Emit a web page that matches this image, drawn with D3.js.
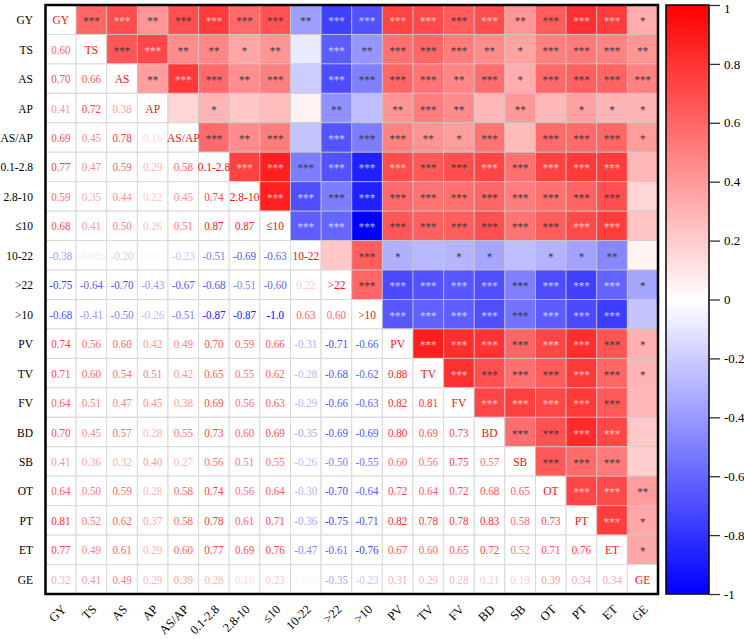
<!DOCTYPE html>
<html>
<head>
<meta charset="utf-8">
<script src="https://cdn.jsdelivr.net/npm/d3@7/dist/d3.min.js"></script>
<style>
  html, body { margin: 0; padding: 0; background: #fff; }
  svg { display: block; }
  svg text { font-family: "Liberation Serif", "Times New Roman", "DejaVu Serif", serif; }
</style>
</head>
<body>
<svg id="chart" width="744" height="639"></svg>
<script>
// ---------- DATA ----------
const variables = ["GY","TS","AS","AP","AS/AP","0.1-2.8","2.8-10","≤10","10-22",">22",">10","PV","TV","FV","BD","SB","OT","PT","ET","GE"];

// lower triangle correlations, row i holds columns 0..i-1
const corrLower = [
  [],
  [0.60],
  [0.70, 0.66],
  [0.41, 0.72, 0.38],
  [0.69, 0.45, 0.78, 0.16],
  [0.77, 0.47, 0.59, 0.29, 0.58],
  [0.59, 0.35, 0.44, 0.22, 0.45, 0.74],
  [0.68, 0.41, 0.50, 0.26, 0.51, 0.87, 0.87],
  [-0.38, -0.083, -0.20, 0.051, -0.23, -0.51, -0.69, -0.63],
  [-0.75, -0.64, -0.70, -0.43, -0.67, -0.68, -0.51, -0.60, 0.22],
  [-0.68, -0.41, -0.50, -0.26, -0.51, -0.87, -0.87, -1.0, 0.63, 0.60],
  [0.74, 0.56, 0.60, 0.42, 0.49, 0.70, 0.59, 0.66, -0.31, -0.71, -0.66],
  [0.71, 0.60, 0.54, 0.51, 0.42, 0.65, 0.55, 0.62, -0.28, -0.68, -0.62, 0.88],
  [0.64, 0.51, 0.47, 0.45, 0.38, 0.69, 0.56, 0.63, -0.29, -0.66, -0.63, 0.82, 0.81],
  [0.70, 0.45, 0.57, 0.28, 0.55, 0.73, 0.60, 0.69, -0.35, -0.69, -0.69, 0.80, 0.69, 0.73],
  [0.41, 0.36, 0.32, 0.40, 0.27, 0.56, 0.51, 0.55, -0.26, -0.50, -0.55, 0.60, 0.56, 0.75, 0.57],
  [0.64, 0.50, 0.59, 0.28, 0.58, 0.74, 0.56, 0.64, -0.30, -0.70, -0.64, 0.72, 0.64, 0.72, 0.68, 0.65],
  [0.81, 0.52, 0.62, 0.37, 0.58, 0.78, 0.61, 0.71, -0.36, -0.75, -0.71, 0.82, 0.78, 0.78, 0.83, 0.58, 0.73],
  [0.77, 0.49, 0.61, 0.29, 0.60, 0.77, 0.69, 0.76, -0.47, -0.61, -0.76, 0.67, 0.60, 0.65, 0.72, 0.52, 0.71, 0.76],
  [0.32, 0.41, 0.49, 0.29, 0.39, 0.28, 0.16, 0.23, 0.047, -0.35, -0.23, 0.31, 0.29, 0.28, 0.21, 0.19, 0.39, 0.34, 0.34]
];

// significance stars, upper triangle, row i holds columns i+1..19
const starsUpper = [
  ["***","***","**","***","***","***","***","**","***","***","***","***","***","***","**","***","***","***","*"],
  ["***","***","**","**","*","**","","***","**","***","***","***","**","*","***","***","***","**"],
  ["**","***","***","**","***","","***","***","***","***","**","***","*","***","***","***","***"],
  ["","*","","","","**","","**","***","**","","**","","*","*","*"],
  ["***","**","***","","***","***","***","**","*","***","","***","***","***","*"],
  ["***","***","***","***","***","***","***","***","***","***","***","***","***",""],
  ["***","***","***","***","***","***","***","***","***","***","***","***",""],
  ["***","***","***","***","***","***","***","***","***","***","***",""],
  ["","***","*","","*","*","","*","*","**",""],
  ["***","***","***","***","***","***","***","***","***","*"],
  ["***","***","***","***","***","***","***","***",""],
  ["***","***","***","***","***","***","***","*"],
  ["***","***","***","***","***","***","*"],
  ["***","***","***","***","***",""],
  ["***","***","***","***",""],
  ["***","***","***",""],
  ["***","***","**"],
  ["***","*"],
  ["*"],
  []
];

const colorbarTicks = [1, 0.8, 0.6, 0.4, 0.2, 0, -0.2, -0.4, -0.6, -0.8, -1];

// ---------- BUILD ----------
const FONT = "Liberation Serif, Times New Roman, DejaVu Serif, serif";
const SX = 0.85; // horizontal squeeze seen in the reference text
const n = variables.length;
const value = (i, j) => i === j ? 1 : (i > j ? corrLower[i][j] : corrLower[j][i]);

const svg = d3.select("#chart");
const M = { left: 45.5, top: 5, right: 658, bottom: 594 };

const x = d3.scaleBand().domain(d3.range(n)).range([M.left, M.right]).paddingInner(0);
const y = d3.scaleBand().domain(d3.range(n)).range([M.top, M.bottom]).paddingInner(0);
const color = d3.scaleLinear().domain([-1, 0, 1]).range(["#0000ff", "#ffffff", "#ff0000"]);
const cx = j => x(j) + x.bandwidth() / 2;
const cy = i => y(i) + y.bandwidth() / 2;

const cells = [];
for (let i = 0; i < n; i++) for (let j = 0; j < n; j++) cells.push({ i, j, v: value(i, j) });

// cell backgrounds
svg.append("g").selectAll("rect").data(cells).join("rect")
  .attr("x", d => x(d.j)).attr("y", d => y(d.i))
  .attr("width", x.bandwidth()).attr("height", y.bandwidth())
  .attr("fill", d => d.j > d.i ? color(d.v) : "#ffffff")
  .attr("stroke", d => d.j > d.i ? "rgba(200,200,200,0.7)" : "#d9d9d9")
  .attr("stroke-width", 1);

// lower triangle numbers
svg.append("g").selectAll("text").data(cells.filter(d => d.i > d.j)).join("text")
  .attr("transform", d => `translate(${cx(d.j)},${cy(d.i) + 4.5}) scale(${SX},1)`)
  .attr("text-anchor", "middle")
  .attr("font-family", FONT)
  .attr("font-size", 13)
  .attr("fill", d => color(d.v))
  .text(d => d.v.toPrecision(2));

// diagonal labels
svg.append("g").selectAll("text").data(d3.range(n)).join("text")
  .attr("transform", d => `translate(${cx(d)},${cy(d) + 4.5}) scale(${SX},1)`)
  .attr("text-anchor", "middle")
  .attr("font-family", FONT)
  .attr("font-size", 13.5)
  .attr("fill", "#f01414")
  .text(d => variables[d]);

// stars
const lum = c => { const r = d3.rgb(c); return 0.299 * r.r + 0.587 * r.g + 0.114 * r.b; };
const starCells = [];
starsUpper.forEach((row, i) => row.forEach((s, k) => { if (s) starCells.push({ i, j: i + 1 + k, s, v: value(i, i + 1 + k) }); }));
svg.append("g").selectAll("text").data(starCells).join("text")
  .attr("transform", d => `translate(${cx(d.j)},${cy(d.i) + 5.5}) scale(${SX},1)`)
  .attr("text-anchor", "middle")
  .attr("font-family", FONT)
  .attr("font-size", 13)
  .attr("fill", d => lum(color(d.v)) < 130.3 ? "rgba(255,255,255,0.72)" : "#3a3a3a")
  .text(d => d.s);

// border of matrix
svg.append("rect")
  .attr("x", M.left).attr("y", M.top)
  .attr("width", M.right - M.left).attr("height", M.bottom - M.top)
  .attr("fill", "none").attr("stroke", "#000").attr("stroke-width", 2.5);

// row labels
svg.append("g").selectAll("text").data(d3.range(n)).join("text")
  .attr("transform", d => `translate(33,${cy(d) + 4.5}) scale(${SX},1)`)
  .attr("text-anchor", "end")
  .attr("font-family", FONT)
  .attr("font-size", 13.5)
  .attr("fill", "#000")
  .text(d => variables[d]);

// column labels
svg.append("g").selectAll("text").data(d3.range(n)).join("text")
  .attr("transform", d => `translate(${cx(d) + 6},${610}) rotate(-45)`)
  .attr("text-anchor", "end")
  .attr("font-family", FONT)
  .attr("font-size", 12.5)
  .attr("fill", "#000")
  .text(d => variables[d]);

// colorbar
const cb = { x: 666, w: 43, top: 5, bottom: 594 };
const defs = svg.append("defs");
const grad = defs.append("linearGradient").attr("id", "cbgrad")
  .attr("x1", 0).attr("y1", 1).attr("x2", 0).attr("y2", 0);
d3.range(-1, 1.0001, 0.1).forEach(v => {
  grad.append("stop").attr("offset", `${(v + 1) / 2 * 100}%`).attr("stop-color", color(v));
});
svg.append("rect")
  .attr("x", cb.x).attr("y", cb.top).attr("width", cb.w).attr("height", cb.bottom - cb.top)
  .attr("fill", "url(#cbgrad)").attr("stroke", "#000").attr("stroke-width", 1.5);

const cbScale = d3.scaleLinear().domain([-1, 1]).range([cb.bottom, cb.top]);
const cbAxis = d3.axisRight(cbScale).tickValues(colorbarTicks).tickSize(11).tickPadding(4)
  .tickFormat(d => String(+d.toFixed(1)));
const axG = svg.append("g").attr("transform", `translate(${cb.x + cb.w},0)`).call(cbAxis);
axG.select(".domain").remove();
axG.selectAll(".tick line").attr("stroke", "#333").attr("stroke-width", 1.3);
axG.selectAll(".tick text")
  .attr("font-family", FONT)
  .attr("font-size", 13).attr("fill", "#000")
  .attr("dy", d => d === 1 ? "0.6em" : "0.32em");
</script>
</body>
</html>
